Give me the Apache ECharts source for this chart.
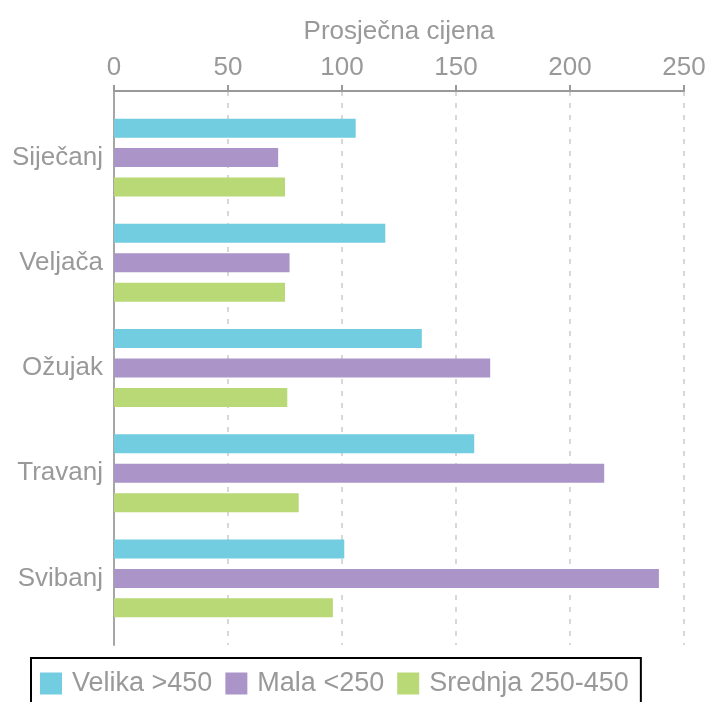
<!DOCTYPE html>
<html>
<head>
<meta charset="utf-8">
<script src="https://cdn.jsdelivr.net/npm/echarts@6/dist/echarts.min.js"></script>
<style>
  html, body { margin: 0; padding: 0; background: #fff; }
  #chart { width: 709px; height: 702px; }
</style>
</head>
<body>
<div id="chart"></div>
<script>
var months = ['Siječanj', 'Veljača', 'Ožujak', 'Travanj', 'Svibanj'];
var velika = [106, 119, 135, 158, 101];
var mala = [72, 77, 165, 215, 239];
var srednja = [75, 75, 76, 81, 96];
var xTicks = [0, 50, 100, 150, 200, 250];

var grey = '#999999';
var chart = echarts.init(document.getElementById('chart'));

chart.setOption({
    animation: false,
    textStyle: { fontFamily: 'Liberation Sans, Arial, sans-serif' },
    grid: [
        { left: 114, right: 25, top: 105, bottom: 71 },
        { left: 114, right: 25, top: 91, bottom: 57 }
    ],
    legend: {
        data: ['Velika >450', 'Mala <250', 'Srednja 250-450'],
        left: 31,
        top: 658,
        borderColor: '#000',
        borderWidth: 2,
        padding: [12, 12, 14, 9],
        itemWidth: 22,
        itemHeight: 22,
        itemGap: 13,
        icon: 'rect',
        textStyle: { color: grey, fontSize: 27, padding: [0, 0, 0, 5] }
    },
    xAxis: [
        {
            gridIndex: 0, type: 'value', min: xTicks[0], max: xTicks[xTicks.length - 1], interval: 50,
            show: false
        },
        {
            gridIndex: 1, type: 'value', position: 'top',
            min: xTicks[0], max: xTicks[xTicks.length - 1], interval: 50,
            name: 'Prosječna cijena',
            nameLocation: 'middle',
            nameGap: 46,
            nameTextStyle: { color: grey, fontSize: 26 },
            axisLine: { show: true, onZero: false, lineStyle: { color: grey, width: 2 } },
            axisTick: { show: true, length: 6, lineStyle: { color: grey, width: 2 } },
            axisLabel: { color: grey, fontSize: 26, margin: 10 },
            splitLine: { show: true, lineStyle: { color: '#cccccc', width: 1.5, type: [5, 7] } }
        }
    ],
    yAxis: [
        {
            gridIndex: 0, type: 'category', data: months, inverse: true,
            axisLine: { show: false },
            axisTick: { show: false },
            axisLabel: { color: grey, fontSize: 26, margin: 11 }
        },
        {
            gridIndex: 1, type: 'value', min: 0, max: 1,
            axisLine: { show: true, onZero: false, lineStyle: { color: '#a6a6a6', width: 2 } },
            axisTick: { show: false },
            axisLabel: { show: false },
            splitLine: { show: false }
        }
    ],
    series: [
        {
            name: 'Velika >450', type: 'bar', data: velika,
            xAxisIndex: 0, yAxisIndex: 0,
            barWidth: 19, barGap: '55%',
            itemStyle: { color: '#72cde0' }
        },
        {
            name: 'Mala <250', type: 'bar', data: mala,
            xAxisIndex: 0, yAxisIndex: 0,
            barWidth: 19, barGap: '55%',
            itemStyle: { color: '#aa94c8' }
        },
        {
            name: 'Srednja 250-450', type: 'bar', data: srednja,
            xAxisIndex: 0, yAxisIndex: 0,
            barWidth: 19, barGap: '55%',
            itemStyle: { color: '#b9d876' }
        }
    ]
});
</script>
</body>
</html>
